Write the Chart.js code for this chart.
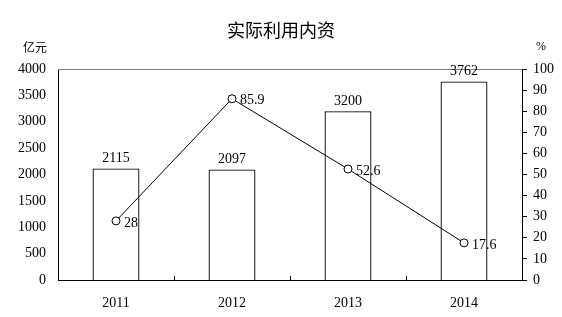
<!DOCTYPE html>
<html>
<head>
<meta charset="utf-8">
<script src="https://cdn.jsdelivr.net/npm/chart.js@4"></script>
<style>
  html, body { margin: 0; padding: 0; background: #fff; }
  #wrap { width: 562px; height: 317px; }
</style>
</head>
<body>
<div id="wrap"><canvas id="c" width="562" height="317"></canvas></div>
<script>
const years = ["2011", "2012", "2013", "2014"];
const amounts = [2115, 2097, 3200, 3762];   // 亿元
const growth = [28, 85.9, 52.6, 17.6];      // %
const leftTicks = [0, 500, 1000, 1500, 2000, 2500, 3000, 3500, 4000];
const rightTicks = [0, 10, 20, 30, 40, 50, 60, 70, 80, 90, 100];

const numFont = { family: "'Liberation Serif', serif", size: 14 };
const cjkFont = "'Noto Sans CJK SC', sans-serif";

// title, unit labels, top border, bottom ticks and value labels
const extras = {
    id: "extras",
    afterDraw(chart) {
        const ctx = chart.ctx;
        const area = chart.chartArea;
        const x = chart.scales.x;
        ctx.save();

        ctx.fillStyle = "#000";
        ctx.textAlign = "center";
        ctx.textBaseline = "middle";
        ctx.font = "18px " + cjkFont;
        ctx.fillText("实际利用内资", 281, 30);
        ctx.font = "12px " + cjkFont;
        ctx.fillText("亿元", 35, 47);
        ctx.font = "12px " + numFont.family;
        ctx.fillText("%", 541, 47);

        // grey top border
        ctx.strokeStyle = "#808080";
        ctx.lineWidth = 1;
        ctx.beginPath();
        ctx.moveTo(area.left, area.top + 0.5);
        ctx.lineTo(area.right, area.top + 0.5);
        ctx.stroke();

        // small inward ticks between categories
        ctx.strokeStyle = "#000";
        for (let i = 0; i < years.length - 1; i++) {
            const px = Math.round((x.getPixelForValue(i) + x.getPixelForValue(i + 1)) / 2) + 0.5;
            ctx.beginPath();
            ctx.moveTo(px, area.bottom);
            ctx.lineTo(px, area.bottom - 4);
            ctx.stroke();
        }

        ctx.font = numFont.size + "px " + numFont.family;
        ctx.fillStyle = "#000";
        // bar labels
        chart.getDatasetMeta(0).data.forEach((bar, i) => {
            ctx.textAlign = "center";
            ctx.textBaseline = "bottom";
            ctx.fillText(String(amounts[i]), bar.x, bar.y - 3);
        });
        // point labels
        chart.getDatasetMeta(1).data.forEach((pt, i) => {
            ctx.textAlign = "left";
            ctx.textBaseline = "middle";
            ctx.fillText(String(growth[i]), pt.x + 8, pt.y + 2);
        });
        ctx.restore();
    }
};

new Chart(document.getElementById("c"), {
    data: {
        labels: years,
        datasets: [
            {
                type: "bar",
                data: amounts,
                yAxisID: "y",
                backgroundColor: "#fff",
                borderColor: "#000",
                borderWidth: 1.3,
                barPercentage: 0.405,
                categoryPercentage: 1,
                order: 2
            },
            {
                type: "line",
                data: growth,
                yAxisID: "y1",
                borderColor: "#000",
                borderWidth: 1,
                pointRadius: 4,
                pointBackgroundColor: "#fff",
                pointBorderColor: "#000",
                pointBorderWidth: 1,
                tension: 0,
                order: 1
            }
        ]
    },
    options: {
        responsive: false,
        animation: false,
        layout: { padding: { top: 69, left: 0, right: 0, bottom: 0 } },
        plugins: {
            legend: { display: false },
            tooltip: { enabled: false }
        },
        scales: {
            x: {
                offset: true,
                grid: { display: false },
                border: { display: true, color: "#000", width: 1 },
                ticks: { color: "#000", font: numFont, padding: 7 },
                afterFit(s) { s.height = 37; }
            },
            y: {
                position: "left",
                min: 0,
                max: 4000,
                afterBuildTicks(s) { s.ticks = leftTicks.map(v => ({ value: v })); },
                grid: { display: false, drawTicks: false },
                border: { display: true, color: "#000", width: 1 },
                ticks: { color: "#000", font: numFont, padding: 12, callback: v => String(v) },
                afterFit(s) { s.width = 58; }
            },
            y1: {
                position: "right",
                min: 0,
                max: 100,
                afterBuildTicks(s) { s.ticks = rightTicks.map(v => ({ value: v })); },
                grid: { drawOnChartArea: false, color: "#000", tickLength: 5 },
                border: { display: true, color: "#000", width: 1 },
                ticks: { color: "#000", font: numFont, padding: 6, callback: v => String(v) },
                afterFit(s) { s.width = 40; }
            }
        }
    },
    plugins: [extras]
});
</script>
</body>
</html>
